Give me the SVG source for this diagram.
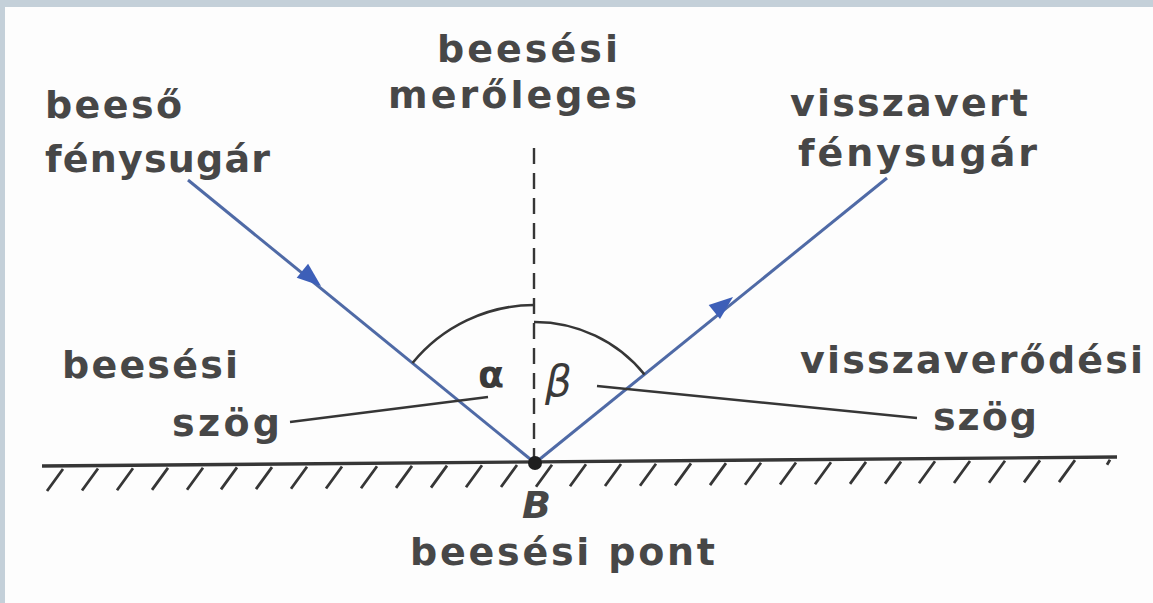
<svg xmlns="http://www.w3.org/2000/svg" width="1153" height="603" viewBox="0 0 1153 603">
<defs>
<style>
.t{font-family:"DejaVu Sans","Liberation Sans",sans-serif;font-size:38px;font-weight:bold;fill:#474747}
.g{font-family:"DejaVu Sans","Liberation Sans",sans-serif;fill:#3a3a3a}
.ray{stroke:#4f6aa6;stroke-width:3;fill:none}
.ink{stroke:#363636;fill:none}
</style>
<path id="ah" d="M0,0 L-24,-9 L-24,9 Z" fill="#3d5fb8"/>
</defs>
<rect x="0" y="0" width="1153" height="603" fill="#fdfdfd"/>
<rect x="0" y="0" width="1153" height="7" fill="#c4d0d9"/>
<rect x="0" y="0" width="5" height="603" fill="#c4d0d9"/>

<g id="surface">
<line x1="42" y1="466" x2="1117" y2="457" class="ink" stroke-width="3.4"/>
<path class="ink" stroke="#4a4a4a" stroke-width="2.8" d="M63,469l-16,22 M98,468.5l-16,22 M133,468.2l-16,22 M168,467.9l-16,22 M203,467.7l-16,22 M237,467.4l-16,22 M272,467.1l-16,22 M307,466.8l-16,22 M342,466.5l-16,22 M377,466.2l-16,22 M412,465.9l-16,22 M447,465.6l-16,22 M482,465.3l-16,22 M517,465l-16,22 M552,464.7l-16,22 M586,464.3l-16,22 M621,464l-16,22 M656,463.7l-16,22 M691,463.4l-16,22 M726,463.1l-16,22 M761,462.8l-16,22 M796,462.5l-16,22 M831,462.2l-16,22 M866,461.9l-16,22 M901,461.6l-16,22 M935,461.3l-16,22 M970,461l-16,22 M1005,460.7l-16,22 M1040,460.4l-16,22 M1075,460.1l-16,22 M1110,459.8l-3,5"/>
</g>

<g id="connectors">
<line x1="534" y1="148" x2="534" y2="462" class="ink" stroke-width="2.4" stroke-dasharray="16 9"/>
<line id="incident" x1="188" y1="180" x2="535" y2="463" class="ray"/>
<line id="reflected" x1="535" y1="463" x2="887" y2="178" class="ray"/>
<use href="#ah" transform="translate(321,286) rotate(39.2)"/>
<use href="#ah" transform="translate(733,297) rotate(-39)"/>
<path d="M412.5,363 A158,158 0 0 1 534,305" class="ink" stroke-width="2.6"/>
<path d="M534,322 A141,141 0 0 1 644.5,374.5" class="ink" stroke-width="2.6"/>
<line x1="290" y1="422" x2="488" y2="397" class="ink" stroke="#505050" stroke-width="2.4"/>
<line x1="597" y1="386" x2="917" y2="418" class="ink" stroke="#505050" stroke-width="2.4"/>
</g>

<g id="point-B">
<circle cx="535" cy="463" r="7" fill="#1e1e1e"/>
<text x="522" y="518" class="t" textLength="26" font-style="italic">B</text>
<text x="410" y="565" class="t" textLength="305">beesési pont</text>
</g>

<g id="normal-label">
<text x="437" y="62" class="t" textLength="181">beesési</text>
<text x="388" y="108" class="t" textLength="249">merőleges</text>
</g>

<g id="incident-label">
<text x="45" y="118" class="t" textLength="137">beeső</text>
<text x="45" y="172" class="t" textLength="225">fénysugár</text>
</g>

<g id="reflected-label">
<text x="790" y="116" class="t" textLength="238">visszavert</text>
<text x="798" y="166" class="t" textLength="239">fénysugár</text>
</g>

<g id="incidence-angle">
<text x="62" y="378" class="t" textLength="176">beesési</text>
<text x="172" y="436" class="t" textLength="108">szög</text>
<text x="478" y="387" class="g" font-size="38" font-weight="bold">α</text>
</g>

<g id="reflection-angle">
<text x="800" y="373" class="t" textLength="343">visszaverődési</text>
<text x="933" y="430" class="t" textLength="104">szög</text>
<text x="545" y="396" class="g" font-size="42" font-style="italic">β</text>
</g>
</svg>
